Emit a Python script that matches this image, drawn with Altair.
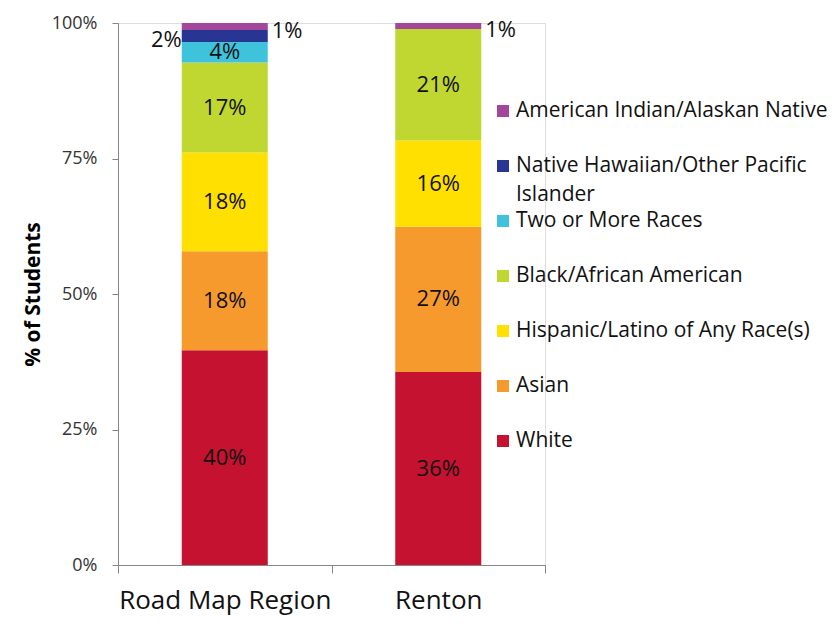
import altair as alt
import pandas as pd

regions = ["Road Map Region", "Renton"]
groups = [
    "White",
    "Asian",
    "Hispanic/Latino of Any Race(s)",
    "Black/African American",
    "Two or More Races",
    "Native Hawaiian/Other Pacific Islander",
    "American Indian/Alaskan Native",
]
road_map = [39.6, 18.3, 18.2, 16.6, 3.8, 2.2, 1.3]
renton = [35.6, 26.8, 15.9, 20.6, 0.0, 0.0, 1.1]
colors = ["#C41230", "#F79A2E", "#FFE000", "#BFD730", "#3FC3DC", "#283593", "#A4479A"]
y_ticks = [0, 25, 50, 75, 100]

rows = []
for region, vals in zip(regions, [road_map, renton]):
    start = 0.0
    for i, (g, v) in enumerate(zip(groups, vals)):
        end = start + v
        if v <= 0:
            pos = "none"
        elif v >= 3:
            pos = "inside"
        elif g.startswith("Native"):
            pos = "left"
        else:
            pos = "right"
        rows.append(dict(region=region, group=g, value=v, order=i, start=start,
                         end=end, mid=(start + end) / 2, label=f"{v:.0f}%", pos=pos))
        start = end
df = pd.DataFrame(rows)

FONT = "Open Sans"
legend_domain = list(reversed(groups))
legend_range = list(reversed(colors))
color_scale = alt.Scale(domain=legend_domain, range=legend_range)
y_scale = alt.Scale(domain=[0, 100], nice=False)

x_enc = alt.X(
    "region:N",
    sort=regions,
    scale=alt.Scale(paddingInner=0, paddingOuter=0),
    axis=alt.Axis(
        title=None, labelAngle=0, tickBand="extent", tickSize=8,
        domainColor="#868686", tickColor="#868686", labelFontSize=26,
        labelFont=FONT, labelColor="#111111", labelPadding=14, labelLimit=400,
    ),
)

bars = alt.Chart(df).mark_bar(size=86).encode(
    x=x_enc,
    y=alt.Y(
        "start:Q",
        scale=y_scale,
        axis=alt.Axis(
            title="% of Students", values=y_ticks, labelExpr="datum.value + '%'",
            grid=False, tickSize=6, domainColor="#868686", tickColor="#868686",
            labelFontSize=18, labelFont=FONT, labelColor="#333333", labelPadding=15,
            titleFont=FONT, titleFontSize=21, titleFontWeight="bold",
            titleColor="#000000", titlePadding=8,
        ),
    ),
    y2="end:Q",
    color=alt.Color("group:N", scale=color_scale, legend=None),
    order=alt.Order("order:Q"),
)

base_text = alt.Chart(df).encode(
    x=alt.X("region:N", sort=regions),
    y=alt.Y("mid:Q", scale=y_scale),
    text="label:N",
)

inside = base_text.transform_filter("datum.pos == 'inside'").mark_text(
    fontSize=22, font=FONT, color="#111111", baseline="middle", align="center"
)
left = base_text.transform_filter("datum.pos == 'left'").mark_text(
    fontSize=22, font=FONT, color="#111111", baseline="middle", align="right", dx=-43, dy=4
)
right = base_text.transform_filter("datum.pos == 'right'").mark_text(
    fontSize=22, font=FONT, color="#111111", baseline="middle", align="left", dx=47, dy=4
)

main = alt.layer(bars, inside, left, right)

# legend (drawn as marks so that the wrapped entry keeps even row spacing)
legend_df = pd.DataFrame({
    "group": legend_domain,
    "legend_label": [g.replace("Other Pacific ", "Other Pacific\n") for g in legend_domain],
})
legend_y = alt.Y(
    "group:N",
    scale=alt.Scale(type="point", domain=legend_domain, range=[88, 418], padding=0),
    axis=None,
)
legend_sq = alt.Chart(legend_df).mark_square(size=144, opacity=1).encode(
    x=alt.value(385),
    y=legend_y,
    color=alt.Color("group:N", scale=color_scale, legend=None),
)
legend_tx = alt.Chart(legend_df).mark_text(
    align="left", baseline="top", dy=-11, lineBreak="\n", lineHeight=29,
    fontSize=21, font=FONT, color="#111111",
).encode(
    x=alt.value(398),
    y=legend_y,
    text="legend_label:N",
)
legend_layer = alt.layer(legend_sq, legend_tx)

chart = (
    alt.layer(main, legend_layer)
    .resolve_scale(y="independent")
    .properties(
        width=427, height=542,
        autosize=alt.AutoSizeParams(type="none"),
        padding={"left": 110, "top": 15, "right": 282, "bottom": 67},
    )
    .configure_view(stroke=None)
    .configure(background="white")
)

chart.save("out.html", embed_options={"renderer": "svg", "actions": False})
